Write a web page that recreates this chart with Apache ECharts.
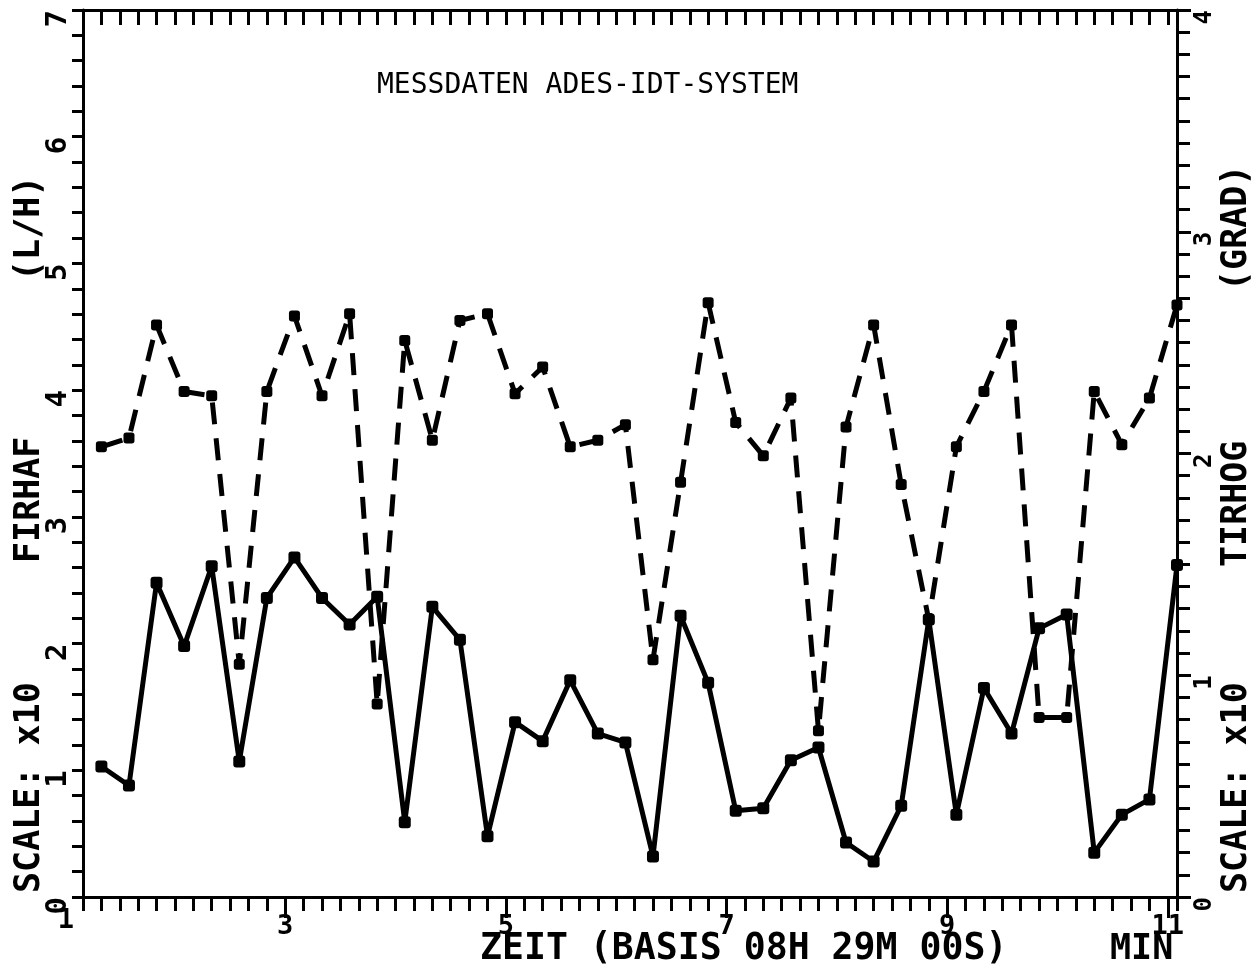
<!DOCTYPE html>
<html><head><meta charset="utf-8">
<script src="https://cdn.jsdelivr.net/npm/echarts@6/dist/echarts.min.js"></script>
<style>html,body{margin:0;padding:0;background:#fff}#c{width:1255px;height:973px}</style>
</head><body><div id="c"></div>
<script>
// sample times in minutes (every 15 s starting at 1 min 20 s)
const timeMin = [1.3333,1.5833,1.8333,2.0833,2.3333,2.5833,2.8333,3.0833,3.3333,3.5833,
  3.8333,4.0833,4.3333,4.5833,4.8333,5.0833,5.3333,5.5833,5.8333,6.0833,
  6.3333,6.5833,6.8333,7.0833,7.3333,7.5833,7.8333,8.0833,8.3333,8.5833,
  8.8333,9.0833,9.3333,9.5833,9.8333,10.0833,10.3333,10.5833,10.8333,11.0833];
// FIRHAF (L/H), scale x10 - solid line, left axis
const firhaf = [1.03,0.88,2.48,1.98,2.61,1.07,2.36,2.68,2.36,2.15,
  2.37,0.59,2.29,2.03,0.48,1.38,1.23,1.71,1.29,1.22,
  0.32,2.22,1.69,0.68,0.70,1.08,1.18,0.43,0.28,0.72,
  2.19,0.65,1.65,1.29,2.12,2.23,0.35,0.65,0.77,2.62];
// TIRHOG (GRAD), scale x10 - dashed line, right axis
const tirhog = [2.03,2.07,2.58,2.28,2.26,1.05,2.28,2.62,2.26,2.63,
  0.87,2.51,2.06,2.60,2.63,2.27,2.39,2.03,2.06,2.13,
  1.07,1.87,2.68,2.14,1.99,2.25,0.75,2.12,2.58,1.86,
  1.25,2.03,2.28,2.58,0.81,0.81,2.28,2.04,2.25,2.67];
const xLabelValues = [3,5,7,9,11];
const xMin = 7/6, xMax = 133/12;

const FONT = 'DejaVu Sans Mono';
const chart = echarts.init(document.getElementById('c'), null, {renderer:'canvas'});
const blk = '#000';
const solidData = timeMin.map((t,i)=>[t, firhaf[i]]);
const dashData = timeMin.map((t,i)=>[t, tirhog[i]]);

function sideText(x, y, text, size){
  return {type:'text', x:x, y:y, rotation:Math.PI/2,
    style:{text:text, fill:blk, font:'bold '+size+'px "'+FONT+'"', align:'left', verticalAlign:'middle'}};
}

chart.setOption({
  animation:false,
  backgroundColor:'#fff',
  grid:{left:83, right:78, top:10, bottom:76, containLabel:false},
  xAxis:[
    {type:'value', position:'bottom', min:xMin, max:xMax, interval:1/6,
      axisLine:{show:true, onZero:false, lineStyle:{color:blk, width:3}},
      axisTick:{show:true, length:14, lineStyle:{color:blk, width:3}},
      axisLabel:{show:false}, splitLine:{show:false}},
    {type:'value', position:'bottom', min:xMin, max:xMax,
      axisLine:{show:false, onZero:false},
      axisTick:{show:true, customValues:xLabelValues, length:21, lineStyle:{color:blk, width:3}},
      axisLabel:{show:true, customValues:xLabelValues, margin:16, color:blk,
        fontFamily:FONT, fontWeight:'bold', fontSize:27},
      splitLine:{show:false}},
    {type:'value', position:'top', min:xMin, max:xMax, interval:1/6,
      axisLine:{show:true, onZero:false, lineStyle:{color:blk, width:3}},
      axisTick:{show:true, inside:true, length:15, lineStyle:{color:blk, width:3}},
      axisLabel:{show:false}, splitLine:{show:false}}
  ],
  yAxis:[
    {type:'value', position:'left', min:0, max:7, interval:1,
      axisLine:{show:true, onZero:false, lineStyle:{color:blk, width:3}},
      axisTick:{show:true, length:11, lineStyle:{color:blk, width:3}},
      minorTick:{show:true, splitNumber:5, length:11, lineStyle:{color:blk, width:3}},
      axisLabel:{show:true, rotate:90, align:'right', margin:10, color:blk,
        fontFamily:FONT, fontWeight:'bold', fontSize:29},
      splitLine:{show:false}, minorSplitLine:{show:false}},
    {type:'value', position:'right', min:0, max:4, interval:1,
      axisLine:{show:true, onZero:false, lineStyle:{color:blk, width:3}},
      axisTick:{show:true, length:14, lineStyle:{color:blk, width:3}},
      minorTick:{show:true, splitNumber:10, length:13, lineStyle:{color:blk, width:3}},
      axisLabel:{show:true, rotate:90, align:'right', margin:16, color:blk,
        fontFamily:FONT, fontWeight:'bold', fontSize:24},
      splitLine:{show:false}, minorSplitLine:{show:false}}
  ],
  graphic:[
    {type:'text', x:377, y:86, style:{text:'MESSDATEN ADES-IDT-SYSTEM', fill:blk,
      font:'28px "'+FONT+'"', align:'left', verticalAlign:'middle'}},
    sideText(30, 893, 'SCALE: x10', 35),
    sideText(30, 563, 'FIRHAF', 35),
    sideText(30, 281, '(L/H)', 35),
    sideText(1237, 893, 'SCALE: x10', 35),
    sideText(1237, 567, 'TIRHOG', 35),
    sideText(1237, 291, '(GRAD)', 35),
    {type:'text', x:480, y:950, style:{text:'ZEIT (BASIS 08H 29M 00S)', fill:blk,
      font:'bold 36.5px "'+FONT+'"', align:'left', verticalAlign:'middle'}},
    {type:'text', x:1110, y:950, style:{text:'MIN', fill:blk,
      font:'bold 35px "'+FONT+'"', align:'left', verticalAlign:'middle'}},
    {type:'text', x:66, y:921, style:{text:'1', fill:blk,
      font:'bold 27px "'+FONT+'"', align:'center', verticalAlign:'middle'}}
  ],
  series:[
    {type:'line', name:'FIRHAF', xAxisIndex:0, yAxisIndex:0, data:solidData,
      symbol:'roundRect', symbolSize:12, showAllSymbol:true,
      lineStyle:{color:blk, width:5}, itemStyle:{color:blk}},
    {type:'line', name:'TIRHOG', xAxisIndex:0, yAxisIndex:1, data:dashData,
      symbol:'roundRect', symbolSize:11, showAllSymbol:true,
      lineStyle:{color:blk, width:5, type:[22,14]}, itemStyle:{color:blk}}
  ]
});
</script></body></html>
